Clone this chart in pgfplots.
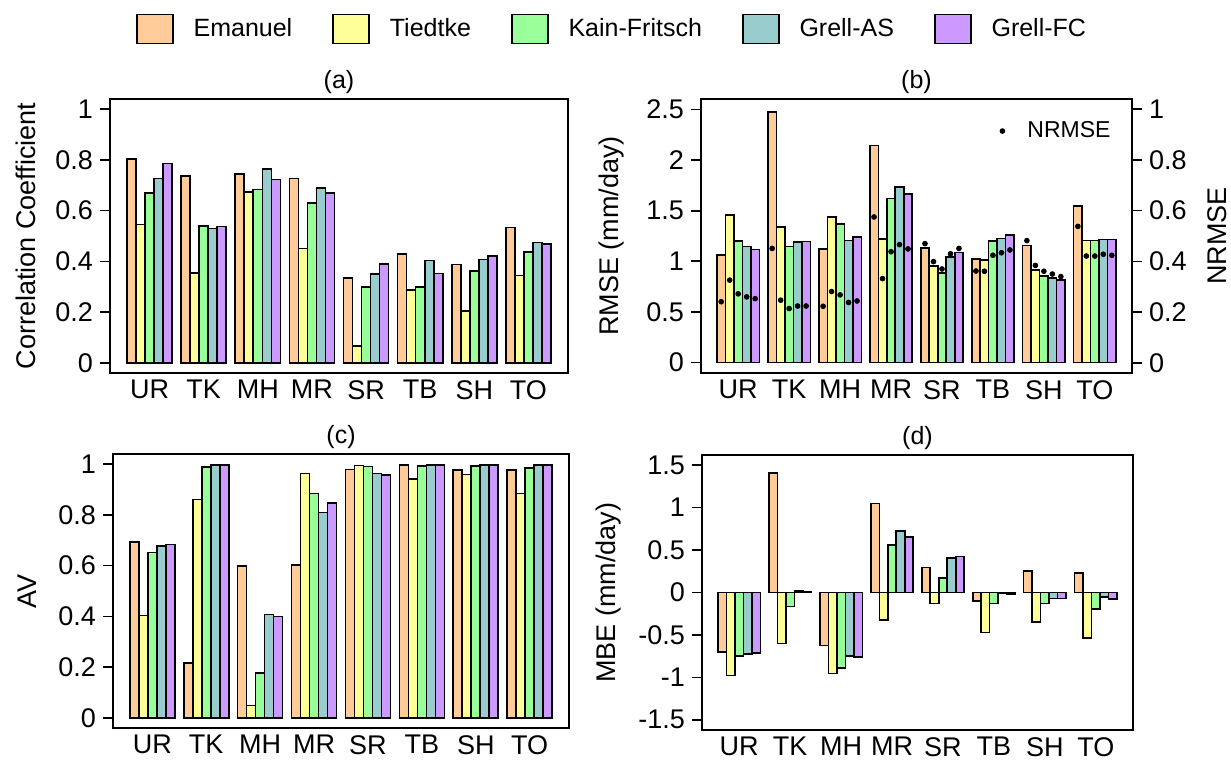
\documentclass[border=0pt]{standalone}
\usepackage{pgfplots}
\pgfplotsset{compat=1.18}
\usepackage{pgfplotstable}
\usepackage{fontspec}
\setmainfont{Liberation Sans}

\definecolor{cE}{RGB}{255,204,153}
\definecolor{cT}{RGB}{255,255,153}
\definecolor{cK}{RGB}{153,255,153}
\definecolor{cA}{RGB}{153,204,204}
\definecolor{cF}{RGB}{204,153,255}

\pgfplotstableread{
g E T K AS FC
3.5 0.804 0.545 0.670 0.726 0.786
9.5 0.736 0.354 0.539 0.529 0.537
15.5 0.745 0.673 0.684 0.765 0.723
21.5 0.726 0.451 0.629 0.689 0.669
27.5 0.335 0.067 0.298 0.350 0.390
33.5 0.429 0.286 0.298 0.404 0.352
39.5 0.388 0.205 0.361 0.407 0.420
45.5 0.534 0.345 0.437 0.474 0.469
}\corr

\pgfplotstableread{
g E T K AS FC
3.5 1.060 1.457 1.201 1.148 1.115
9.5 2.477 1.339 1.145 1.191 1.194
15.5 1.122 1.440 1.371 1.207 1.243
21.5 2.146 1.220 1.620 1.736 1.667
27.5 1.132 0.955 0.883 1.040 1.086
33.5 1.024 1.011 1.201 1.227 1.257
39.5 1.155 0.912 0.856 0.833 0.817
45.5 1.548 1.204 1.204 1.217 1.214
}\rmse

\pgfplotstableread{
g E T K AS FC
3.5 0.241 0.326 0.272 0.260 0.253
9.5 0.451 0.247 0.214 0.224 0.224
15.5 0.223 0.281 0.268 0.238 0.244
21.5 0.575 0.332 0.438 0.466 0.449
27.5 0.470 0.399 0.370 0.430 0.451
33.5 0.362 0.361 0.424 0.434 0.445
39.5 0.482 0.384 0.361 0.350 0.340
45.5 0.538 0.421 0.421 0.428 0.424
}\nrmse

\pgfplotstableread{
g E T K AS FC
3.5 0.693 0.403 0.652 0.677 0.683
9.5 0.216 0.860 0.989 0.997 0.997
15.5 0.598 0.049 0.177 0.407 0.400
21.5 0.603 0.963 0.884 0.809 0.846
27.5 0.979 0.995 0.991 0.963 0.958
33.5 0.997 0.941 0.993 0.997 0.997
39.5 0.978 0.959 0.993 0.997 0.997
45.5 0.978 0.885 0.985 0.997 0.997
}\av

\pgfplotstableread{
g E T K AS FC
3.5 -0.699 -0.977 -0.750 -0.723 -0.711
9.5 1.410 -0.600 -0.164 0.020 0.005
15.5 -0.625 -0.953 -0.887 -0.750 -0.758
21.5 1.047 -0.324 0.563 0.727 0.652
27.5 0.293 -0.129 0.168 0.406 0.426
33.5 -0.098 -0.469 -0.129 -0.012 -0.015
39.5 0.254 -0.348 -0.129 -0.070 -0.070
45.5 0.227 -0.539 -0.191 -0.050 -0.074
}\mbe

\newcommand{\tickfont}{\fontsize{13.5}{14}\selectfont}

\pgfplotsset{
  bars/.style={ybar, bar width=1, bar shift=0pt, draw=black, line width=0.8pt},
  panel/.style={
    scale only axis,
    xmin=-0.88, xmax=49.88,
    xtick={3.5,9.5,15.5,21.5,27.5,33.5,39.5,45.5},
    xticklabels={UR,TK,MH,MR,SR,TB,SH,TO},
    major x tick style={draw=none},
    xticklabel style={anchor=north, inner sep=0pt, yshift=1.5pt},
    ytick pos=left,
    tick align=outside,
    major tick length=5pt,
    axis line style={line width=0.8pt},
    every tick/.style={black, line width=0.8pt},
    tick label style={font=\tickfont},
    label style={font=\tickfont},
    title style={font=\fontsize{12.5}{13}\selectfont, at={(0.5,1)}, anchor=center, yshift=2.5pt},
    legend image code/.code={\draw[#1] (0pt,-7.25pt) rectangle (18pt,7.25pt);},
  },
}

\newcommand{\fivebars}[1]{%
  \addplot[bars, fill=cE] table[x expr=\thisrow{g}-2, y=E]{#1};
  \addplot[bars, fill=cT] table[x expr=\thisrow{g}-1, y=T]{#1};
  \addplot[bars, fill=cK] table[x expr=\thisrow{g}, y=K]{#1};
  \addplot[bars, fill=cA] table[x expr=\thisrow{g}+1, y=AS]{#1};
  \addplot[bars, fill=cF] table[x expr=\thisrow{g}+2, y=FC]{#1};
}

\begin{document}
\begin{tikzpicture}
\path[use as bounding box] (0,0) rectangle (615.5pt,381pt);

% (a)
\begin{axis}[panel,
  at={(55pt,194.5pt)}, anchor=south west, width=229pt, height=137pt,
  ymin=-0.04, ymax=1.04,
  ytick={0,0.2,0.4,0.6,0.8,1}, yticklabels={0,0.2,0.4,0.6,0.8,1},
  ylabel={Correlation Coefficient},
  ylabel style={at={(axis description cs:-0.1834,0.5)}, anchor=center},
  title={(a)},
  legend columns=5,
  legend style={draw=none, fill=none, at={(axis description cs:1.0983,1.2555)}, anchor=center,
    font=\fontsize{12.5}{13}\selectfont,
    /tikz/every odd column/.append style={column sep=8pt},
    /tikz/every even column/.append style={column sep=18pt}},
]
\fivebars{\corr}
\legend{Emanuel,Tiedtke,Kain-Fritsch,Grell-AS,Grell-FC}
\end{axis}

% (b)
\begin{axis}[panel,
  at={(350.5pt,194.5pt)}, anchor=south west, width=215.5pt, height=137pt,
  ymin=-0.104, ymax=2.604,
  ytick={0,0.5,1,1.5,2,2.5}, yticklabels={0,0.5,1,1.5,2,2.5},
  ylabel={RMSE (mm/day)},
  ylabel style={at={(axis description cs:-0.2065,0.5)}, anchor=center},
  title={(b)},
]
\fivebars{\rmse}
\end{axis}
\begin{axis}[scale only axis,
  at={(350.5pt,194.5pt)}, anchor=south west, width=215.5pt, height=137pt,
  xmin=-0.88, xmax=49.88,
  ymin=-0.04, ymax=1.04,
  axis x line=none, axis y line*=right,
  tick align=outside, major tick length=5pt,
  axis line style={line width=0.8pt},
  every tick/.style={black, line width=0.8pt},
  tick label style={font=\tickfont},
  label style={font=\tickfont},
  ytick={0,0.2,0.4,0.6,0.8,1}, yticklabels={0,0.2,0.4,0.6,0.8,1},
  ylabel={NRMSE},
  ylabel style={at={(axis description cs:1.197,0.5)}, anchor=center},
  legend image code/.code={\draw[#1] plot coordinates {(0pt,0pt)}; \path[draw=none] (-1.5pt,0pt) rectangle (10.5pt,0.1pt);},
  legend style={draw=none, fill=none, at={(axis description cs:0.6775,0.883)}, anchor=west,
    font=\fontsize{11.5}{12}\selectfont},
]
\addplot[only marks, mark=*, mark size=1.2pt, black] table[x expr=\thisrow{g}-2, y=E]{\nrmse};
\addlegendentry{NRMSE}
\addplot[only marks, mark=*, mark size=1.2pt, black, forget plot] table[x expr=\thisrow{g}-1, y=T]{\nrmse};
\addplot[only marks, mark=*, mark size=1.2pt, black, forget plot] table[x expr=\thisrow{g}, y=K]{\nrmse};
\addplot[only marks, mark=*, mark size=1.2pt, black, forget plot] table[x expr=\thisrow{g}+1, y=AS]{\nrmse};
\addplot[only marks, mark=*, mark size=1.2pt, black, forget plot] table[x expr=\thisrow{g}+2, y=FC]{\nrmse};
\end{axis}

% (c)
\begin{axis}[panel,
  at={(56.5pt,17pt)}, anchor=south west, width=228pt, height=137pt,
  ymin=-0.04, ymax=1.04,
  ytick={0,0.2,0.4,0.6,0.8,1}, yticklabels={0,0.2,0.4,0.6,0.8,1},
  ylabel={AV},
  ylabel style={at={(axis description cs:-0.1875,0.5)}, anchor=center},
  title={(c)},
]
\fivebars{\av}
\end{axis}

% (d)
\begin{axis}[panel,
  at={(351pt,16pt)}, anchor=south west, width=215.5pt, height=137.5pt,
  ymin=-1.62, ymax=1.62,
  ytick={-1.5,-1,-0.5,0,0.5,1,1.5}, yticklabels={-1.5,-1,-0.5,0,0.5,1,1.5},
  ylabel={MBE (mm/day)},
  ylabel style={at={(axis description cs:-0.218,0.5)}, anchor=center},
  title={(d)},
]
\fivebars{\mbe}
\end{axis}
\end{tikzpicture}
\end{document}
